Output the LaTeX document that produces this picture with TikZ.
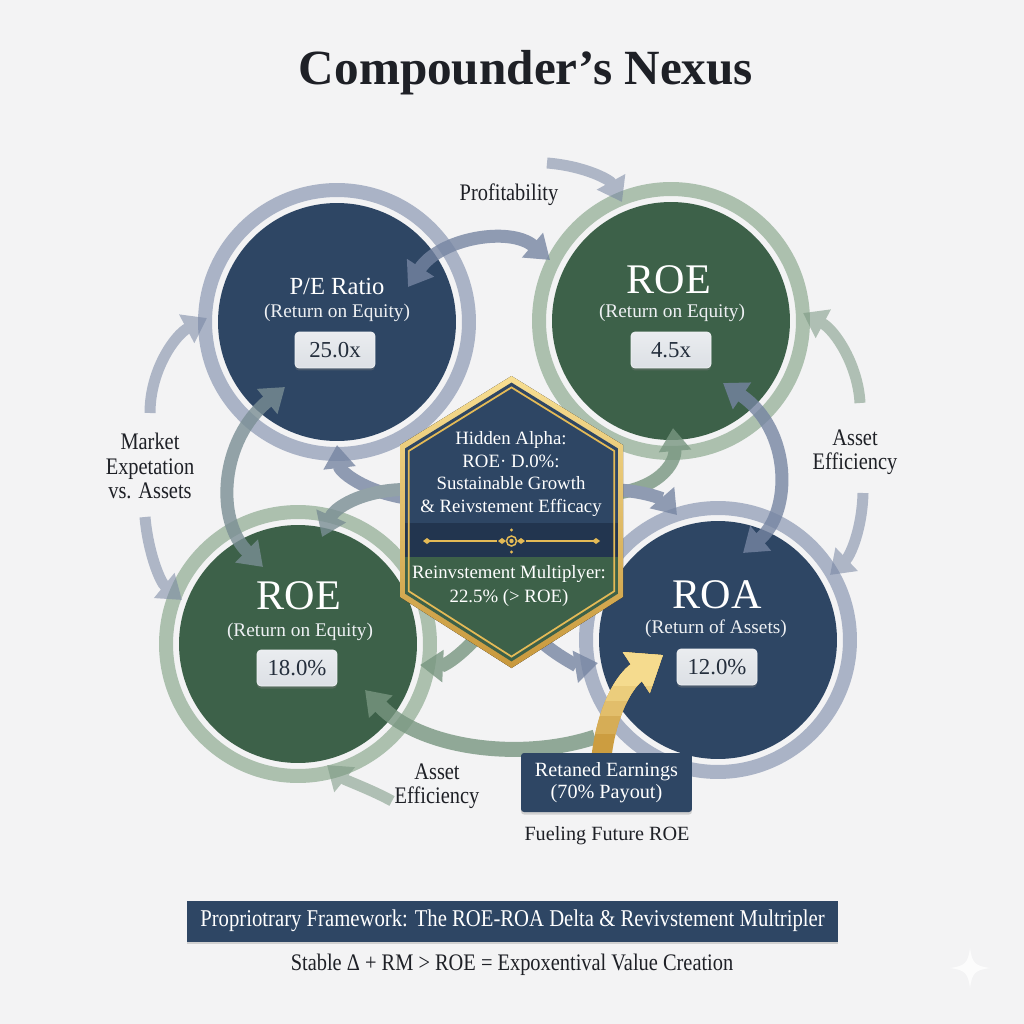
\documentclass[tikz,border=0pt]{standalone}
\usepackage{fontspec}
\setmainfont{Liberation Serif}
\newfontfamily\condfont{Liberation Serif}[FakeStretch=0.86]
\usepackage{tikz}
\usetikzlibrary{arrows.meta, positioning, calc, shadows}
\definecolor{bgpaper}{RGB}{243,243,244}
\definecolor{navydisc}{RGB}{46,70,100}
\definecolor{navyband}{RGB}{34,53,79}
\definecolor{greendisc}{RGB}{61,97,73}
\definecolor{ringblue}{RGB}{170,179,198}
\definecolor{ringgreen}{RGB}{172,192,174}
\definecolor{arrblue}{RGB}{118,133,162}
\definecolor{arrgreen}{RGB}{120,150,128}
\definecolor{arrmix}{RGB}{122,142,148}
\definecolor{goldlight}{RGB}{247,222,146}
\definecolor{golddark}{RGB}{200,152,60}
\definecolor{goldarrow}{RGB}{228,186,86}
\definecolor{valfill}{RGB}{220,224,229}
\definecolor{valink}{RGB}{36,46,60}
\definecolor{inktext}{RGB}{30,32,38}
\tikzset{
  disc/.style={circle, minimum size=4.76cm, inner sep=0pt},
  ring/.style={line width=0.28cm},
  titletext/.style={font=\fontsize{28}{32}\selectfont\bfseries, text=inktext, inner sep=0pt},
  bigname/.style={font=\fontsize{24}{28}\selectfont, text=white, inner sep=0pt},
  midname/.style={font=\fontsize{14}{17}\selectfont, text=white, inner sep=0pt},
  subtext/.style={font=\fontsize{11}{13}\selectfont, text=white!92!navydisc, inner sep=0pt},
  valbox/.style={rectangle, rounded corners=0.08cm, top color=valfill!60!white, bottom color=valfill,
    draw=white!60!valfill, line width=0.4pt, minimum width=1.6cm, minimum height=0.72cm,
    font=\fontsize{13}{15}\selectfont, text=valink,
    drop shadow={opacity=0.35, shadow xshift=0pt, shadow yshift=-0.05cm}},
  sidelabel/.style={font=\condfont\fontsize{13.5}{13.7}\selectfont, text=inktext,
    align=center, inner sep=0pt},
  hextext/.style={font=\fontsize{10.7}{12.8}\selectfont, text=white, align=center, inner sep=0pt},
  navybox/.style={rectangle, fill=navydisc, rounded corners=0.06cm, text=white, align=center,
    drop shadow={opacity=0.3, shadow xshift=0pt, shadow yshift=-0.05cm}},
  bluearrow/.style={draw=arrblue, line width=0.26cm},
  greenarrow/.style={draw=arrgreen, line width=0.26cm},
  mixarrow/.style={draw=arrmix, line width=0.26cm},
  fadearrow/.style={line width=0.22cm},
  goldtip/.style={line width=0.4cm, -{Triangle[width=0.94cm,length=0.64cm]}}
}
\newcommand{\hexoutline}{(0,-146) -- (111.5,-77) -- (111.5,75) -- (0,146) -- (-111.5,75) -- (-111.5,-77) -- cycle}
\newcommand{\goldcurve}{(retain-top) .. controls (604,712) and (625,680) .. (roa-in)}

\begin{document}
\begin{tikzpicture}[x=0.02cm, y=-0.02cm, >={Triangle[width=0.62cm,length=0.46cm]}]
  \useasboundingbox (0,0) rectangle (1024,1024);
  \fill[bgpaper] (0,0) rectangle (1024,1024);

  % Title
  \node[titletext] (title) at (526,73) {Compounder's Nexus};

  % Rings and discs
  \node[disc, fill=navydisc] (pe) at (337,322) {};
  \node[disc, fill=greendisc] (roetr) at (671,321) {};
  \node[disc, fill=greendisc] (roebl) at (298,644) {};
  \node[disc, fill=navydisc] (roa) at (718,640) {};
  \draw[ring, ringblue] (pe.center) circle[radius=2.64cm];
  \draw[ring, ringgreen] (roetr.center) circle[radius=2.64cm];
  \draw[ring, ringgreen] (roebl.center) circle[radius=2.64cm];
  \draw[ring, ringblue] (roa.center) circle[radius=2.64cm];

  % Arrow end points
  \coordinate (pe-ne) at (408,287);
  \coordinate (roetr-w) at (550,260);
  \coordinate (prof-start) at (547,163);
  \coordinate (roetr-n) at (622,202);
  \coordinate (mkt-up) at (150,413);
  \coordinate (pe-w) at (207,318);
  \coordinate (mkt-down) at (145,517);
  \coordinate (roebl-nw) at (182,600);
  \coordinate (eff-up) at (860,403);
  \coordinate (roetr-e) at (803,313);
  \coordinate (eff-down) at (863,493);
  \coordinate (roa-ne) at (830,575);
  \coordinate (pe-s) at (285,387);
  \coordinate (roebl-n) at (263,567);
  \coordinate (roetr-s) at (723,383);
  \coordinate (roa-n) at (743,553);
  \coordinate (hex-w) at (425,500);
  \coordinate (pe-se) at (337,445);
  \coordinate (hex-e) at (600,495);
  \coordinate (roetr-sw) at (673,428);
  \coordinate (hex-w2) at (420,490);
  \coordinate (roebl-ne) at (322,537);
  \coordinate (hex-sw) at (485,628);
  \coordinate (roebl-e) at (420,665);
  \coordinate (hex-e2) at (600,490);
  \coordinate (roa-nw) at (677,515);
  \coordinate (hex-se) at (535,636);
  \coordinate (roa-w) at (598,663);
  \coordinate (roa-sw) at (595,737);
  \coordinate (roebl-se) at (365,690);
  \coordinate (eff2-start) at (392,801);
  \coordinate (roebl-s) at (327,765);

  % Outer flow arrows
  \begin{scope}[transparency group, opacity=0.55]
    \draw[fadearrow, draw=arrblue, ->] (prof-start) .. controls (585,166) and (610,180) .. (roetr-n);
    \draw[fadearrow, draw=arrblue, ->] (mkt-up) .. controls (150,370) and (175,335) .. (pe-w);
    \draw[fadearrow, draw=arrblue, ->] (mkt-down) .. controls (148,552) and (160,582) .. (roebl-nw);
    \draw[fadearrow, draw=arrgreen, ->] (eff-up) .. controls (858,365) and (835,330) .. (roetr-e);
    \draw[fadearrow, draw=arrblue, ->] (eff-down) .. controls (862,530) and (850,556) .. (roa-ne);
    \draw[fadearrow, draw=arrgreen, ->] (eff2-start) .. controls (372,790) and (345,780) .. (roebl-s);
  \end{scope}

  % Inner flow arrows
  \begin{scope}[transparency group, opacity=0.8]
    \draw[bluearrow, <->] (pe-ne) .. controls (440,238) and (510,226) .. (roetr-w);
    \draw[mixarrow, <->] (pe-s) .. controls (220,440) and (215,520) .. (roebl-n);
    \draw[bluearrow, <->] (roetr-s) .. controls (792,430) and (792,512) .. (roa-n);
    \draw[bluearrow, ->] (hex-w) .. controls (370,497) and (340,472) .. (pe-se);
    \draw[greenarrow, ->] (hex-e) .. controls (660,492) and (676,462) .. (roetr-sw);
    \draw[mixarrow, ->] (hex-w2) .. controls (372,486) and (336,505) .. (roebl-ne);
    \draw[greenarrow, ->] (hex-sw) .. controls (458,660) and (442,666) .. (roebl-e);
    \draw[bluearrow, ->] (hex-e2) .. controls (640,488) and (664,500) .. (roa-nw);
    \draw[bluearrow, ->] (hex-se) .. controls (558,658) and (580,666) .. (roa-w);
    \draw[greenarrow, line width=0.3cm, ->] (roa-sw) .. controls (520,762) and (420,748) .. (roebl-se);
  \end{scope}

  % Disc texts
  \node[midname] (petitle) at (337,286) {P/E Ratio};
  \node[subtext] (pesub) at (337,313) {(Return on Equity)};
  \node[valbox] (peval) at (335,350) {25.0x};
  \node[bigname] (roetrtitle) at (669,280) {ROE};
  \node[subtext] (roetrsub) at (672,313) {(Return on Equity)};
  \node[valbox] (roetrval) at (671,350) {4.5x};
  \node[bigname] (roebltitle) at (299,596) {ROE};
  \node[subtext] (roeblsub) at (300,632) {(Return on Equity)};
  \node[valbox] (roeblval) at (297,668) {18.0\%};
  \node[bigname] (roatitle) at (717,595) {ROA};
  \node[subtext] (roasub) at (716,629) {(Return of Assets)};
  \node[valbox] (roaval) at (717,667) {12.0\%};

  % Central hexagon
  \coordinate (hexc) at (511.5,522);
  \fill[top color=goldlight, bottom color=golddark, shift={(hexc)}] \hexoutline;
  \begin{scope}
    \path[clip, shift={(hexc)}, scale=0.955] \hexoutline;
    \fill[navydisc] (380,360) rectangle (640,523);
    \fill[navyband] (380,523) rectangle (640,557);
    \fill[greendisc] (380,557) rectangle (640,690);
  \end{scope}
  \draw[goldarrow, line width=0.035cm, shift={(hexc)}, scale=0.922] \hexoutline;
  % ornament
  \draw[goldarrow, line width=0.03cm] (427,541) -- (497,541) (526,541) -- (596,541);
  \fill[goldarrow] (423,541) -- (427,538) -- (431,541) -- (427,544) -- cycle;
  \fill[goldarrow] (592,541) -- (596,538) -- (600,541) -- (596,544) -- cycle;
  \fill[goldarrow] (498,541) -- (502,538) -- (506,541) -- (502,544) -- cycle;
  \fill[goldarrow] (517,541) -- (521,538) -- (525,541) -- (521,544) -- cycle;
  \draw[goldarrow, line width=0.03cm] (511.5,541) circle[radius=5];
  \fill[goldarrow] (511.5,541) circle[radius=2.2];
  \fill[goldarrow] (511.5,530) circle[radius=1.6] (511.5,552) circle[radius=1.6];
  \node[hextext] (hexupper) at (511,474) {Hidden Alpha:\\ROE· D.0\%:\\Sustainable Growth\\\& Reivstement Efficacy};
  \node[hextext, font=\fontsize{10.7}{13.7}\selectfont] (hexlower) at (509,586) {Reinvstement Multiplyer:\\22.5\% (> ROE)};

  % Retained earnings feed
  \coordinate (retain-top) at (600,772);
  \coordinate (roa-in) at (663,655);
  \draw[golddark!85!goldarrow, goldtip] \goldcurve;
  \foreach \ycut/\shade in {733/30, 715/55, 700/75, 685/95} {
    \begin{scope}
      \clip (560,600) rectangle (720,\ycut);
      \draw[goldlight!\shade!golddark, goldtip] \goldcurve;
    \end{scope}
  }
  \node[navybox, minimum width=3.42cm, minimum height=1.18cm, font=\fontsize{11.5}{12.5}\selectfont] (retain) at (606.5,782.5) {Retaned Earnings\\(70\% Payout)};
  \node[font=\fontsize{11.5}{13}\selectfont, text=inktext, inner sep=0pt] (fuel) at (607,836) {Fueling Future ROE};

  % Side labels
  \node[sidelabel] (proflabel) at (509,195) {Profitability};
  \node[sidelabel] (mktlabel) at (150,466) {Market\\Expetation\\vs. Assets};
  \node[sidelabel] (efflabel) at (855,452) {Asset\\Efficiency};
  \node[sidelabel] (efflabel2) at (437,786) {Asset\\Efficiency};

  % Bottom banner
  \node[navybox, rounded corners=0pt, minimum width=13.02cm, minimum height=0.82cm,
    font=\condfont\fontsize{13.7}{15}\selectfont] (banner) at (512.5,921)
    {Propriotrary Framework: The ROE-ROA Delta \& Revivstement Multripler};
  \node[font=\condfont\fontsize{13.5}{15}\selectfont, text=inktext, inner sep=0pt] (formula) at (512,965)
    {Stable Δ + RM > ROE = Expoxentival Value Creation};

  % corner sparkle
  \fill[white, opacity=0.8] (970,948) .. controls (972,963) and (975,966) .. (990,968)
    .. controls (975,970) and (972,973) .. (970,988) .. controls (968,973) and (965,970) .. (950,968)
    .. controls (965,966) and (968,963) .. (970,948) -- cycle;
\end{tikzpicture}
\end{document}
